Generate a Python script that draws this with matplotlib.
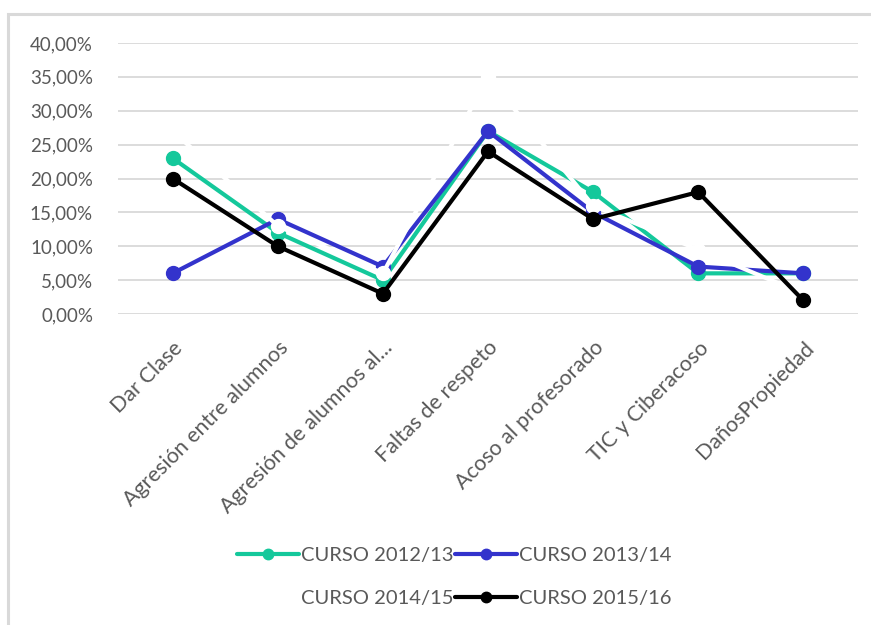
import numpy as np
import matplotlib.pyplot as plt
from matplotlib.patches import Rectangle

categorias = ['Dar Clase', 'Agresión entre alumnos', 'Agresión de alumnos al...',
              'Faltas de respeto', 'Acoso al profesorado', 'TIC y Ciberacoso', 'DañosPropiedad']
curso_2012 = [0.23, 0.12, 0.05, 0.27, 0.18, 0.06, 0.06]
curso_2013 = [0.06, 0.14, 0.07, 0.27, 0.15, 0.07, 0.06]
curso_2014 = [0.27, 0.13, 0.06, 0.35, 0.16, 0.095, 0.03]
curso_2015 = [0.20, 0.10, 0.03, 0.24, 0.14, 0.18, 0.02]
series = ['CURSO 2012/13', 'CURSO 2013/14', 'CURSO 2014/15', 'CURSO 2015/16']
colores = ['#14C89B', '#3333CC', '#FFFFFF', '#000000']

plt.rcParams['font.family'] = ['Lato', 'DejaVu Sans']
gris = '#595959'

fig = plt.figure(figsize=(8.71, 6.25), dpi=100)
fig.patches.append(Rectangle((8/871, -0.1), 1.2, 1 - 14/625 + 0.1, transform=fig.transFigure,
                             fill=False, edgecolor='#D9D9D9', linewidth=2.2))
ax = fig.add_axes([118/871, 1 - 314/625, (858 - 118)/871, (314 - 43)/625])

x = np.arange(len(categorias))
lineas = {}
for nombre, valores, color in zip(series, [curso_2012, curso_2013, curso_2014, curso_2015], colores):
    lineas[nombre], = ax.plot(x, valores, color=color, linewidth=3, marker='o',
                              markersize=10, label=nombre, solid_capstyle='round')

ax.set_ylim(0, 0.40)
ax.set_xlim(-0.52, len(categorias) - 0.48)
ax.set_yticks(np.arange(0, 0.401, 0.05))
ax.set_yticklabels([f'{v*100:.2f}%'.replace('.', ',') for v in np.arange(0, 0.401, 0.05)])
ax.set_xticks(x)
ax.set_xticklabels(categorias, rotation=45, ha='right', va='top', rotation_mode='anchor')
ax.tick_params(axis='both', length=0, colors=gris)
ax.tick_params(axis='x', pad=17, labelsize=15.5)
ax.tick_params(axis='y', pad=18, labelsize=13.5)
for s in ax.spines.values():
    s.set_visible(False)
ax.grid(axis='y', color='#D9D9D9', linewidth=1.3)
ax.set_axisbelow(True)

orden = ['CURSO 2012/13', 'CURSO 2014/15', 'CURSO 2013/14', 'CURSO 2015/16']
leg = fig.legend([lineas[n] for n in orden], orden, loc='center', bbox_to_anchor=(454/871, 1 - 577/625),
                 ncol=2, frameon=False, fontsize=14.5, handlelength=3.1, handletextpad=0.1,
                 columnspacing=0.05, labelspacing=1.25, markerscale=0.75)
for t in leg.get_texts():
    t.set_color(gris)

plt.savefig('out.png', dpi=100)
